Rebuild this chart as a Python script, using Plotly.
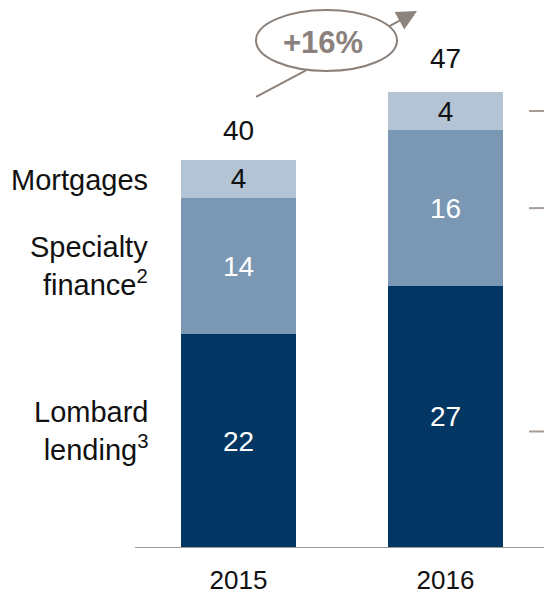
import plotly.graph_objects as go

# Loan book by segment (CHF bn)
years = ["2015", "2016"]
lombard = [22, 27]
specialty = [14, 16]
mortgages = [4, 4]
totals = [40, 47]
growth_label = "+16%"

segment_names = ["Lombard<br>lending<sup>3</sup>", "Specialty<br>finance<sup>2</sup>", "Mortgages"]

FONT = "Liberation Sans, Arial, Helvetica, sans-serif"
C_LOMBARD = "#023764"
C_SPECIALTY = "#7a97b3"
C_MORTGAGE = "#b4c4d4"
C_ARROW = "#8c827c"

W, H = 544, 595
BOTTOM = 46.5
PLOT_H = H - BOTTOM
PX_PER_UNIT = 9.72
Y_MAX = PLOT_H / PX_PER_UNIT
X_RANGE = [-1.152, 1.476]

fig = go.Figure()

series = [
    ("Lombard lending", lombard, C_LOMBARD, "white"),
    ("Specialty finance", specialty, C_SPECIALTY, "white"),
    ("Mortgages", mortgages, C_MORTGAGE, "#111111"),
]
for name, vals, color, tcolor in series:
    fig.add_trace(go.Bar(
        x=years, y=vals, name=name,
        marker=dict(color=color, line=dict(width=0)),
        width=0.556,
        text=[str(v) for v in vals],
        textposition="inside",
        insidetextanchor="middle",
        textangle=0,
        constraintext="none",
        textfont=dict(family=FONT, size=28, color=tcolor),
        hoverinfo="skip",
    ))

# totals above the bars (category index positions)
for i, (tot, shift) in enumerate(zip(totals, [12, 16])):
    fig.add_annotation(x=i, y=tot, text=str(tot), showarrow=False,
                       yanchor="bottom", yshift=shift,
                       font=dict(family=FONT, size=28, color="#111111"))

# segment names on the left, next to the 2015 bar
mid_l = lombard[0] / 2
mid_s = lombard[0] + specialty[0] / 2
mid_m = lombard[0] + specialty[0] + mortgages[0] / 2
for label, ymid, shift in zip(segment_names, [mid_l, mid_s, mid_m], [10, 0, -1]):
    fig.add_annotation(xref="paper", x=150 / W, y=ymid, yshift=shift, text=label,
                       showarrow=False, xanchor="right", yanchor="middle", align="right",
                       font=dict(family=FONT, size=29, color="#111111"))

# leader ticks at the right edge
for yv in [lombard[1] + specialty[1] + mortgages[1] / 2, lombard[1] + specialty[1] / 2, 12]:
    fig.add_shape(type="line", xref="paper", x0=529 / W, x1=1.0, y0=yv, y1=yv,
                  line=dict(color="#a89d96", width=2))

# baseline
fig.add_shape(type="line", x0=-0.5, x1=X_RANGE[1], y0=0, y1=0,
              line=dict(color="#9a9a9a", width=2))

def px(xp):
    return xp / W

def py(yp):
    return (PLOT_H - yp) / PLOT_H

# growth arrow: tail segment, ellipse, head segment
fig.add_shape(type="line", xref="paper", yref="paper",
              x0=px(256), y0=py(97), x1=px(306), y1=py(70.5),
              line=dict(color=C_ARROW, width=2))
fig.add_shape(type="circle", xref="paper", yref="paper",
              x0=px(256), x1=px(397), y0=py(71), y1=py(10),
              line=dict(color=C_ARROW, width=2), fillcolor="white")
fig.add_annotation(xref="paper", yref="paper", axref="pixel", ayref="pixel",
                   x=px(417), y=py(11), ax=-29, ay=16, text="",
                   showarrow=True, arrowhead=2, arrowsize=2.0, arrowwidth=2,
                   arrowcolor=C_ARROW)
fig.add_annotation(xref="paper", yref="paper", x=px(323), y=py(43),
                   text="<b>%s</b>" % growth_label, showarrow=False,
                   xanchor="center", yanchor="middle",
                   font=dict(family=FONT, size=31, color="#8a817c"))

fig.update_layout(
    width=W, height=H,
    barmode="stack",
    showlegend=False,
    paper_bgcolor="white", plot_bgcolor="white",
    margin=dict(l=0, r=0, t=0, b=BOTTOM, pad=0, autoexpand=False),
    font=dict(family=FONT),
    xaxis=dict(type="category", range=X_RANGE, showgrid=False, zeroline=False,
               showline=False, ticks="", ticklabelstandoff=14, automargin=False,
               tickfont=dict(family=FONT, size=26, color="#111111"),
               fixedrange=True),
    yaxis=dict(range=[0, Y_MAX], visible=False, fixedrange=True, automargin=False),
)

fig.write_html("out.html")
